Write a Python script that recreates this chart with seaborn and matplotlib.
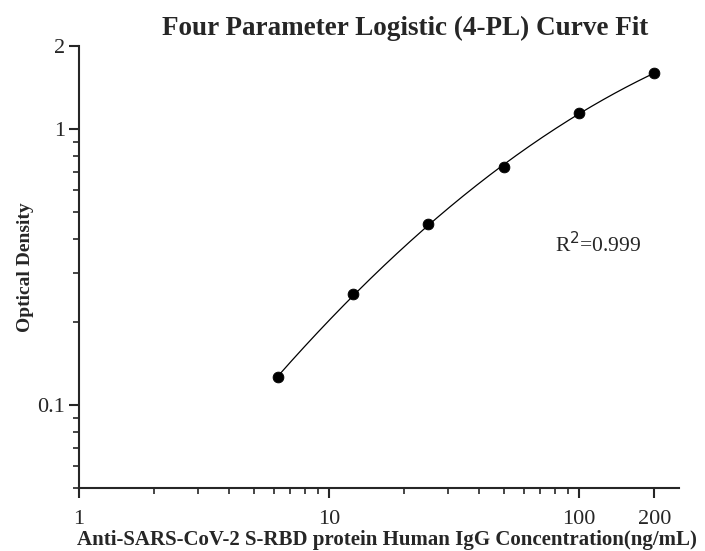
import numpy as np
import pandas as pd
import matplotlib
matplotlib.use("Agg")
import matplotlib.pyplot as plt
from matplotlib.ticker import LogLocator, NullFormatter, FixedLocator, FixedFormatter
import seaborn as sns

# --- Data ---
concentration = [6.25, 12.5, 25, 50, 100, 200]
optical_density = [0.126, 0.253, 0.451, 0.728, 1.143, 1.598]
r_squared = "0.999"

x_ticks = [1, 10, 100, 200]
x_tick_labels = ["1", "10", "100", "200"]
y_ticks = [0.1, 1, 2]
y_tick_labels = ["0.1", "1", "2"]


def main():
    sns.set_style("ticks")
    plt.rcParams["font.family"] = ["Liberation Serif", "DejaVu Serif"]

    df = pd.DataFrame({"conc": concentration, "od": optical_density})

    # smooth fitted curve in log-log space
    coef = np.polyfit(np.log10(df["conc"]), np.log10(df["od"]), 2)
    xs = np.logspace(np.log10(df["conc"].min()), np.log10(df["conc"].max()), 200)
    fit = pd.DataFrame({"conc": xs, "od": 10 ** np.polyval(coef, np.log10(xs))})

    fig = plt.figure(figsize=(7.05, 5.51), dpi=100)
    ax = fig.add_axes([0.112, 0.1143, 0.851, 0.8022])

    sns.lineplot(data=fit, x="conc", y="od", ax=ax, color="black", linewidth=0.9)
    sns.scatterplot(data=df, x="conc", y="od", ax=ax, color="black", s=60,
                    edgecolor="black", zorder=3)

    ax.set_xscale("log")
    ax.set_yscale("log")
    ax.set_xlim(1, 251)
    ax.set_ylim(0.05, 2)

    ax.xaxis.set_major_locator(FixedLocator(x_ticks))
    ax.xaxis.set_major_formatter(FixedFormatter(x_tick_labels))
    ax.xaxis.set_minor_locator(LogLocator(base=10, subs=np.arange(2, 10)))
    ax.xaxis.set_minor_formatter(NullFormatter())
    ax.yaxis.set_major_locator(FixedLocator(y_ticks))
    ax.yaxis.set_major_formatter(FixedFormatter(y_tick_labels))
    ax.yaxis.set_minor_locator(LogLocator(base=10, subs=np.arange(2, 10)))
    ax.yaxis.set_minor_formatter(NullFormatter())

    ax.tick_params(which="major", length=7, width=1.5, labelsize=16,
                   direction="out")
    ax.tick_params(axis="x", which="major", pad=9)
    ax.tick_params(axis="y", which="major", pad=3)
    ax.tick_params(which="minor", length=4, width=1.2, direction="out")
    for side in ["left", "bottom"]:
        ax.spines[side].set_linewidth(1.5)
    sns.despine(ax=ax)

    fig.text(0.574, 0.949, "Four Parameter Logistic (4-PL) Curve Fit",
             fontsize=19.5, fontweight="bold", ha="center", va="center")
    ax.set_xlabel("Anti-SARS-CoV-2 S-RBD protein Human IgG Concentration(ng/mL)",
                  fontsize=15, fontweight="bold")
    ax.xaxis.set_label_coords(0.513, -0.095)
    ax.set_ylabel("Optical Density", fontsize=14, fontweight="bold")
    ax.yaxis.set_label_coords(-0.075, 0.5)

    ax.text(0.793, 0.55, "R$^2$=" + r_squared, transform=ax.transAxes,
            fontsize=15.5, ha="left", va="center")

    fig.savefig("out.png", dpi=100)


if __name__ == "__main__":
    main()
